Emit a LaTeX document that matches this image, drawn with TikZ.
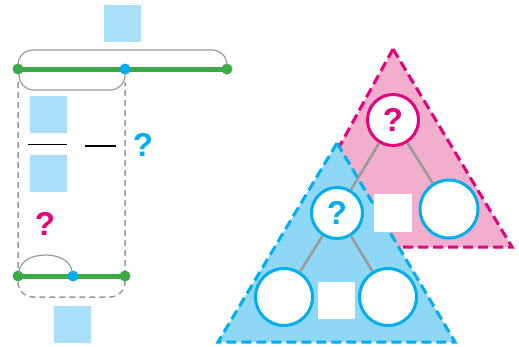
\documentclass[tikz,border=0pt]{standalone}
\usepackage{fontspec}
\newfontfamily\qfont{Liberation Sans}
\usetikzlibrary{calc,backgrounds}
\definecolor{sqblue}{HTML}{A9DFF8}
\definecolor{grn}{HTML}{3DAA48}
\definecolor{cyn}{HTML}{00AEEF}
\definecolor{mag}{HTML}{E5007E}
\definecolor{pinkfill}{HTML}{F2AFCD}
\definecolor{bluefill}{HTML}{8ED8F6}
\definecolor{gry}{HTML}{9A9A9A}
\begin{document}
\begin{tikzpicture}[x=1pt,y=-1pt,
  sq/.style={fill=sqblue,minimum size=37pt,inner sep=0pt,draw=none},
  wsq/.style={fill=white,minimum size=37pt,inner sep=0pt,draw=none},
  gdot/.style={circle,fill=grn,minimum size=11pt,inner sep=0pt},
  bdot/.style={circle,fill=cyn,minimum size=11pt,inner sep=0pt},
  gline/.style={draw=grn,line width=5pt},
  brace/.style={draw=gry,line width=1.2pt,rounded corners=15pt},
  dbrace/.style={draw=gry,line width=1.5pt,rounded corners=15pt,dash pattern=on 6pt off 4pt},
  qm/.style={font=\qfont\bfseries\fontsize{33}{33}\selectfont,inner sep=0pt},
  ring/.style={circle,draw,line width=3pt,fill=white,inner sep=0pt},
  tri/.style={line width=3pt,dash pattern=on 10pt off 5pt,line join=miter},
  link/.style={draw=gry,line width=2.5pt}]
\useasboundingbox (0,0) rectangle (519,346);
% left part
\node[sq] (top) at (122.5,23.5) {};
\node[gdot] (a1) at (18,69) {};
\node[bdot] (b1) at (125,69) {};
\node[gdot] (c1) at (227,69) {};
\node[gdot] (a2) at (18,276) {};
\node[bdot] (b2) at (73,276) {};
\node[gdot] (c2) at (125,276) {};
\begin{scope}[on background layer]
  \draw[gline] (a1.center) -- (b1.center) -- (c1.center);
  \draw[gline] (a2.center) -- (b2.center) -- (c2.center);
  \draw[dbrace] ($(a1)+(0,13)$) -- ($(a2)+(0,21)$) -- ($(c2)+(0,21)$) -- ($(b1)+(0,13)$);
\end{scope}
\draw[brace] ($(a1)+(0,-5)$) -- ($(a1)+(0,-19)$) -- ($(c1)+(0,-19)$) -- ($(c1)+(0,-5)$);
\draw[brace] ($(a1)+(1,5)$) -- ($(a1)+(1,21)$) -- ($(b1)+(0,21)$) -- ($(b1)+(0,5)$);
\draw[draw=gry,line width=1.2pt] ($(a2)+(1,-3)$) .. controls ($(a2)+(1,-27)$) and ($(b2)+(-1,-27)$) .. ($(b2)+(-1,-3)$);
\node[sq] (num) at (48,114.5) {};
\node[sq] (den) at (48,173.5) {};
\draw[line width=1pt] (28,144) -- (67,144);
\draw[line width=2pt] (85,146) -- (116,146);
\node[qm,text=cyn] (q1) at (143,145) {?};
\node[qm,text=mag] (q2) at (45,224) {?};
\node[sq] (bot) at (72.5,324.5) {};
% triangles
\draw[tri,fill=pinkfill,draw=mag] (393,49) -- (512,247) -- (284,247) -- cycle;
\draw[tri,fill=bluefill,draw=cyn] (337,143) -- (455,342) -- (218,342) -- cycle;
\node[ring,draw=mag,minimum size=51pt,text=mag,font=\qfont\bfseries\fontsize{33}{33}\selectfont] (p1) at (393,120) {?};
\node[ring,draw=cyn,minimum size=58pt] (p2) at (449,209) {};
\node[ring,draw=cyn,minimum size=51pt,text=cyn,font=\qfont\bfseries\fontsize{33}{33}\selectfont] (t1) at (337,213) {?};
\node[ring,draw=cyn,minimum size=57pt] (l1) at (284,297) {};
\node[ring,draw=cyn,minimum size=57pt] (r1) at (388,297) {};
\draw[link] (p1) -- (t1);
\draw[link] (p1) -- (p2);
\draw[link] (t1) -- (l1);
\draw[link] (t1) -- (r1);
\node[wsq,minimum size=38pt] (w1) at (393,213) {};
\node[wsq] (w2) at (336,300.5) {};
\end{tikzpicture}
\end{document}
